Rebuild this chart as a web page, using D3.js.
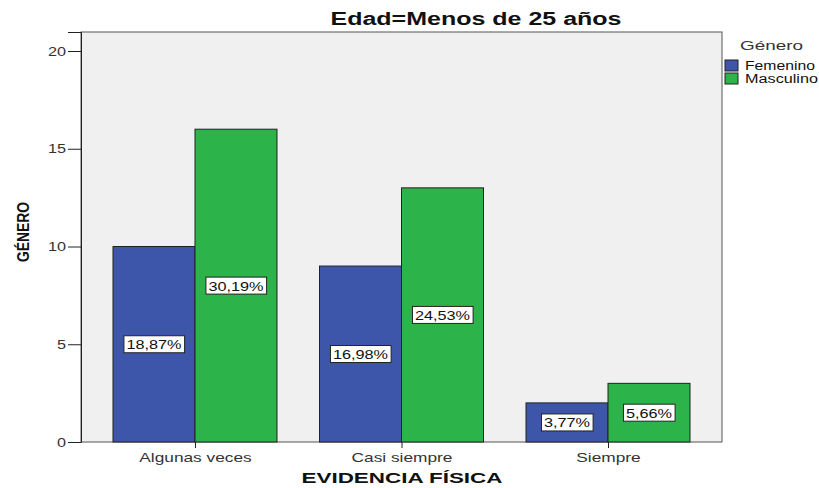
<!DOCTYPE html>
<html><head><meta charset="utf-8">
<script src="https://cdn.jsdelivr.net/npm/d3@7"></script>
<style>body{margin:0;background:#fff;font-family:Arial,"Liberation Sans",sans-serif}</style>
</head><body><svg id="c" width="819" height="488" font-family="Arial,Liberation Sans,sans-serif"></svg>
<script>
const categories = ["Algunas veces", "Casi siempre", "Siempre"];
const seriesNames = ["Femenino", "Masculino"];
const femenino = [10, 9, 2];
const masculino = [16, 13, 3];
const femeninoPct = ["18,87%", "16,98%", "3,77%"];
const masculinoPct = ["30,19%", "24,53%", "5,66%"];
const yTicks = [0, 5, 10, 15, 20];
const colors = ["#3e56aa", "#2cb34a"];

const svg = d3.select("#c");
const L = 81, R = 722, T = 32, B = 442;

// widen text horizontally like the reference (stretched rendering)
function stretch(sel, factor) {
  sel.each(function () {
    const w = this.getComputedTextLength();
    d3.select(this).attr("textLength", w * factor).attr("lengthAdjust", "spacingAndGlyphs");
  });
}

svg.append("rect").attr("x", L).attr("y", T).attr("width", R - L).attr("height", B - T)
  .attr("fill", "#f0f0f0").attr("stroke", "#555").attr("stroke-width", 1);

const y = d3.scaleLinear().domain([0, 20 * (B - T) / (B - 51)]).range([B, T]);
const x = d3.scalePoint().domain(categories).range([L, R]).padding(0.552);
const sub = d3.scaleBand().domain(seriesNames).range([-82, 82]);

const rows = categories.map((c, i) => ({c, vals: [femenino[i], masculino[i]], pcts: [femeninoPct[i], masculinoPct[i]]}));

const g = svg.append("g");
rows.forEach(r => {
  r.vals.forEach((v, j) => {
    const bx = x(r.c) + sub(seriesNames[j]);
    g.append("rect").attr("x", bx).attr("y", y(v)).attr("width", sub.bandwidth()).attr("height", y(0) - y(v))
      .attr("fill", colors[j]).attr("stroke", "#222").attr("stroke-width", 1);
  });
});
rows.forEach(r => {
  r.vals.forEach((v, j) => {
    const cx = x(r.c) + sub(seriesNames[j]) + sub.bandwidth() / 2;
    const cy = (y(v) + y(0)) / 2;
    const t = g.append("text").attr("x", cx).attr("y", cy + 5).attr("text-anchor", "middle")
      .attr("font-size", 13).attr("fill", "#111").text(r.pcts[j]);
    stretch(t, 1.25);
    const bb = t.node().getBBox();
    g.insert("rect", () => t.node()).attr("x", bb.x - 2.5).attr("y", cy - 8.5).attr("width", bb.width + 5).attr("height", 17)
      .attr("fill", "#fff").attr("stroke", "#222").attr("stroke-width", 1);
  });
});

// y axis
const ya = svg.append("g").attr("transform", `translate(${L},0)`)
  .call(d3.axisLeft(y).tickValues(yTicks).tickSize(13).tickPadding(2));
ya.select(".domain").attr("stroke", "#222");
ya.selectAll(".tick line").attr("stroke", "#222");
ya.selectAll("text").attr("font-size", 12.5).attr("fill", "#333").attr("font-family", "Arial,Liberation Sans,sans-serif");
stretch(ya.selectAll("text"), 1.3);

// x axis
const xa = svg.append("g").attr("transform", `translate(0,${B})`)
  .call(d3.axisBottom(x).tickSize(6).tickPadding(5));
xa.select(".domain").remove();
xa.selectAll(".tick line").attr("stroke", "#222");
xa.selectAll("text").attr("font-size", 13).attr("fill", "#333").attr("font-family", "Arial,Liberation Sans,sans-serif");
stretch(xa.selectAll("text"), 1.33);

const title = svg.append("text").attr("x", 476).attr("y", 25).attr("text-anchor", "middle")
  .attr("font-size", 18).attr("font-weight", "bold").attr("fill", "#111").text("Edad=Menos de 25 años");
title.attr("textLength", 291).attr("lengthAdjust", "spacingAndGlyphs");
const xl = svg.append("text").attr("x", 402).attr("y", 483).attr("text-anchor", "middle")
  .attr("font-size", 15).attr("font-weight", "bold").attr("fill", "#111").text("EVIDENCIA FÍSICA");
xl.attr("textLength", 201).attr("lengthAdjust", "spacingAndGlyphs");
const yl = svg.append("text").attr("transform", "translate(29,232) rotate(-90)").attr("text-anchor", "middle")
  .attr("font-size", 17).attr("font-weight", "bold").attr("fill", "#111").text("GÉNERO");
yl.attr("textLength", 60).attr("lengthAdjust", "spacingAndGlyphs");

// legend
const lg = svg.append("g");
lg.append("text").attr("x", 740).attr("y", 50).attr("font-size", 13).attr("fill", "#333").text("Género")
  .attr("textLength", 63).attr("lengthAdjust", "spacingAndGlyphs");
const legW = [70, 73];
seriesNames.forEach((s, i) => {
  lg.append("rect").attr("x", 725).attr("y", 60 + i * 13).attr("width", 13).attr("height", 11)
    .attr("fill", colors[i]).attr("stroke", "#222").attr("stroke-width", 1);
  lg.append("text").attr("x", 745).attr("y", 70 + i * 13).attr("font-size", 12).attr("fill", "#111").text(s)
    .attr("textLength", legW[i]).attr("lengthAdjust", "spacingAndGlyphs");
});
</script></body></html>
